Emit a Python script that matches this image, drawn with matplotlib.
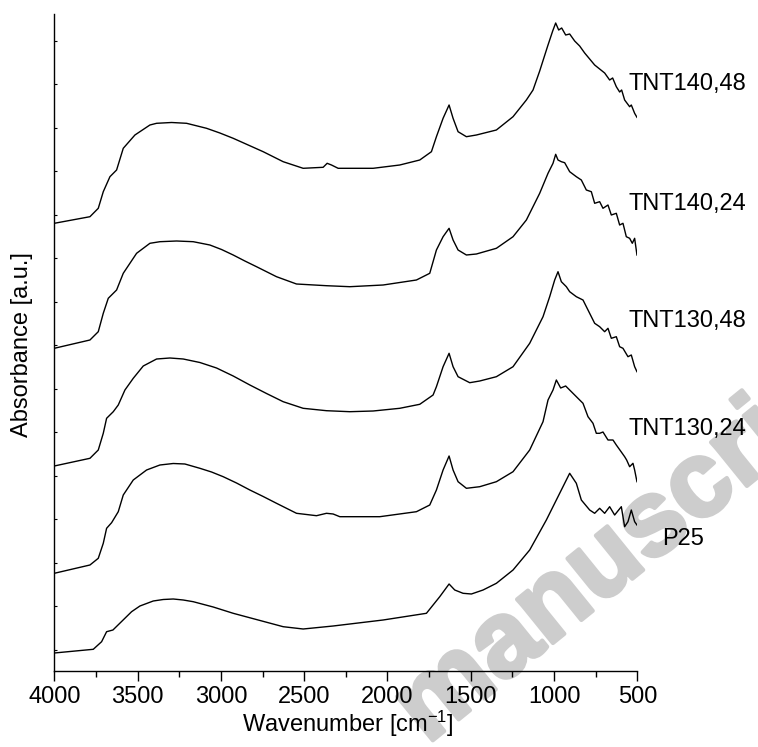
import matplotlib
matplotlib.use('Agg')
import matplotlib.pyplot as plt
import matplotlib.patheffects as pe
from matplotlib.ticker import MultipleLocator

plt.rcParams['font.family'] = ['Liberation Sans', 'DejaVu Sans']
plt.rcParams['mathtext.fontset'] = 'custom'
plt.rcParams['mathtext.rm'] = 'Liberation Sans'
plt.rcParams['mathtext.it'] = 'Liberation Sans:italic'

# ---- spectra (wavenumber cm-1, absorbance a.u., stacked) ----
p25_wn = [4000, 3766, 3716, 3686, 3648, 3536, 3486, 3406, 3346, 3286, 3226, 3166, 3046,
          2926, 2776, 2626, 2506, 2326, 2026, 1766, 1686, 1630, 1596, 1546, 1496, 1426,
          1346, 1246, 1146, 1046, 966, 906, 866, 836, 786, 756, 726, 696, 666, 636, 596,
          576, 556, 536, 516, 502]
p25_abs = [0.18, 0.217, 0.293, 0.393, 0.41, 0.593, 0.65, 0.70, 0.715, 0.72, 0.71, 0.693,
           0.64, 0.577, 0.51, 0.443, 0.42, 0.45, 0.51, 0.577, 0.743, 0.87, 0.81, 0.777,
           0.77, 0.81, 0.877, 1.01, 1.21, 1.51, 1.777, 1.977, 1.877, 1.71, 1.61, 1.577,
           1.627, 1.577, 1.643, 1.56, 1.643, 1.443, 1.493, 1.61, 1.493, 1.46]

tnt130_24_wn = [4000, 3786, 3736, 3706, 3686, 3656, 3616, 3586, 3526, 3446, 3366, 3286,
                3216, 3126, 3056, 2986, 2906, 2826, 2746, 2666, 2546, 2426, 2366, 2326,
                2286, 2046, 1826, 1746, 1706, 1666, 1630, 1606, 1576, 1526, 1446, 1346,
                1246, 1146, 1066, 1036, 1006, 986, 960, 930, 894, 858, 826, 796, 766, 746,
                726, 706, 676, 646, 626, 596, 576, 564, 546, 526, 516, 502]
tnt130_24_abs = [0.977, 1.06, 1.127, 1.277, 1.427, 1.483, 1.593, 1.76, 1.91, 2.01, 2.06,
                 2.075, 2.07, 2.027, 1.99, 1.943, 1.88, 1.81, 1.745, 1.677, 1.577, 1.553,
                 1.577, 1.57, 1.543, 1.543, 1.593, 1.66, 1.81, 2.01, 2.15, 2.01, 1.893,
                 1.827, 1.843, 1.893, 1.993, 2.21, 2.493, 2.71, 2.81, 2.91, 2.83, 2.85,
                 2.79, 2.73, 2.677, 2.543, 2.477, 2.377, 2.377, 2.39, 2.31, 2.31, 2.26,
                 2.19, 2.143, 2.11, 2.043, 2.077, 2.01, 1.893]

tnt130_48_wn = [4000, 3786, 3736, 3706, 3686, 3646, 3616, 3576, 3526, 3466, 3386, 3306,
                3226, 3126, 3026, 2926, 2826, 2726, 2626, 2506, 2366, 2226, 2086, 1926,
                1806, 1726, 1706, 1666, 1630, 1606, 1576, 1506, 1446, 1346, 1246, 1146,
                1066, 1026, 996, 976, 956, 926, 906, 866, 826, 796, 756, 726, 696, 676,
                656, 626, 606, 586, 556, 536, 516, 502]
tnt130_48_abs = [2.05, 2.127, 2.21, 2.377, 2.527, 2.593, 2.66, 2.81, 2.927, 3.05, 3.12,
                 3.13, 3.12, 3.085, 3.03, 2.95, 2.86, 2.775, 2.693, 2.627, 2.603, 2.593,
                 2.6, 2.627, 2.667, 2.76, 2.843, 3.043, 3.177, 3.043, 2.943, 2.883, 2.9,
                 2.943, 3.043, 3.277, 3.543, 3.743, 3.91, 3.993, 3.893, 3.843, 3.793,
                 3.743, 3.71, 3.61, 3.477, 3.443, 3.393, 3.427, 3.327, 3.343, 3.243,
                 3.227, 3.143, 3.16, 3.043, 2.993]

tnt140_24_wn = [4000, 3786, 3736, 3706, 3676, 3626, 3586, 3506, 3426, 3366, 3266, 3166,
                3066, 2996, 2926, 2856, 2786, 2666, 2546, 2366, 2226, 2026, 1826, 1746,
                1706, 1666, 1630, 1606, 1576, 1526, 1466, 1346, 1246, 1166, 1086, 1036,
                1006, 990, 976, 956, 936, 906, 866, 836, 806, 776, 756, 726, 706, 676,
                656, 626, 606, 586, 566, 546, 530, 516, 502]
tnt140_24_abs = [3.227, 3.31, 3.393, 3.577, 3.727, 3.81, 3.977, 4.177, 4.277, 4.293,
                 4.30, 4.293, 4.26, 4.215, 4.16, 4.10, 4.043, 3.943, 3.87, 3.853, 3.843,
                 3.86, 3.91, 3.977, 4.21, 4.343, 4.427, 4.31, 4.21, 4.16, 4.17, 4.227,
                 4.343, 4.51, 4.777, 4.977, 5.077, 5.167, 5.11, 5.093, 5.083, 4.993,
                 4.943, 4.91, 4.81, 4.793, 4.677, 4.693, 4.627, 4.66, 4.56, 4.577, 4.46,
                 4.477, 4.343, 4.327, 4.277, 4.327, 4.16]

tnt140_48_wn = [4000, 3786, 3736, 3706, 3666, 3626, 3586, 3516, 3426, 3386, 3296, 3206,
                3086, 3006, 2926, 2836, 2746, 2626, 2506, 2386, 2362, 2336, 2296, 2086,
                1926, 1806, 1736, 1706, 1666, 1630, 1606, 1576, 1526, 1466, 1346, 1246,
                1166, 1126, 1086, 1038, 1008, 990, 972, 954, 930, 906, 876, 846, 816, 786,
                756, 726, 696, 666, 648, 626, 606, 594, 576, 546, 536, 516, 502]
tnt140_48_abs = [4.477, 4.543, 4.627, 4.793, 4.943, 5.01, 5.227, 5.36, 5.46, 5.477,
                 5.485, 5.477, 5.427, 5.38, 5.327, 5.26, 5.193, 5.093, 5.027, 5.037,
                 5.077, 5.06, 5.027, 5.027, 5.06, 5.11, 5.193, 5.343, 5.527, 5.66, 5.527,
                 5.393, 5.343, 5.36, 5.41, 5.543, 5.71, 5.81, 6.0, 6.25, 6.4, 6.48, 6.41,
                 6.43, 6.36, 6.37, 6.30, 6.25, 6.18, 6.12, 6.06, 6.02, 5.98, 5.91, 5.93,
                 5.843, 5.79, 5.81, 5.71, 5.643, 5.66, 5.577, 5.537]

sample_names = ['P25', 'TNT130,24', 'TNT130,48', 'TNT140,24', 'TNT140,48']
series = [(p25_wn, p25_abs), (tnt130_24_wn, tnt130_24_abs), (tnt130_48_wn, tnt130_48_abs),
          (tnt140_24_wn, tnt140_24_abs), (tnt140_48_wn, tnt140_48_abs)]

# label anchors (wavenumber, absorbance) for the names at the right
label_pos = [(348, 1.26), (552, 2.36), (552, 3.443), (552, 4.61), (552, 5.81)]

fig = plt.figure(figsize=(7.58, 7.47), dpi=100)
ax = fig.add_axes([54.3 / 758, 1 - 671 / 747, 583 / 758, 657 / 747])
ax.set_facecolor('none')

for (wn, ab) in series:
    ax.plot(wn, ab, color='black', lw=1.0)

for name, (lx, ly) in zip(sample_names, label_pos):
    ax.text(lx, ly, name, fontsize=17, ha='left', va='baseline', clip_on=False)

ax.set_xlim(4000, 500)
ax.set_ylim(0, 6.57)

ax.spines['top'].set_visible(False)
ax.spines['right'].set_visible(False)
ax.spines['left'].set_linewidth(1.0)
ax.spines['bottom'].set_linewidth(1.0)

ax.xaxis.set_major_locator(MultipleLocator(500))
ax.xaxis.set_minor_locator(MultipleLocator(250))
ax.tick_params(axis='x', which='major', direction='out', length=7, width=1, labelsize=17, pad=4)
ax.tick_params(axis='x', which='minor', direction='out', length=4, width=1)
ax.set_yticks([0.215 + 0.435 * k for k in range(15)])
ax.tick_params(axis='y', direction='in', length=2.5, width=0.8, labelleft=False)

fig.text(348 / 758, 1 - 724 / 747, 'Wavenumber [cm$^{-1}$]', fontsize=17, ha='center', va='center')
fig.text(22 / 758, 1 - 345 / 747, 'Absorbance [a.u.]', fontsize=17, ha='center', va='center',
         rotation='vertical')

# grey watermark of the source page
wm_grey = '#cdcdcd'
fig.text(427 / 758, 1 - 745 / 747, 'manuscript', fontsize=77, fontweight='bold', color=wm_grey,
         rotation=39, rotation_mode='anchor', ha='left', va='baseline', zorder=-1,
         path_effects=[pe.withStroke(linewidth=3, foreground=wm_grey)])

fig.savefig('out.png', dpi=100)
